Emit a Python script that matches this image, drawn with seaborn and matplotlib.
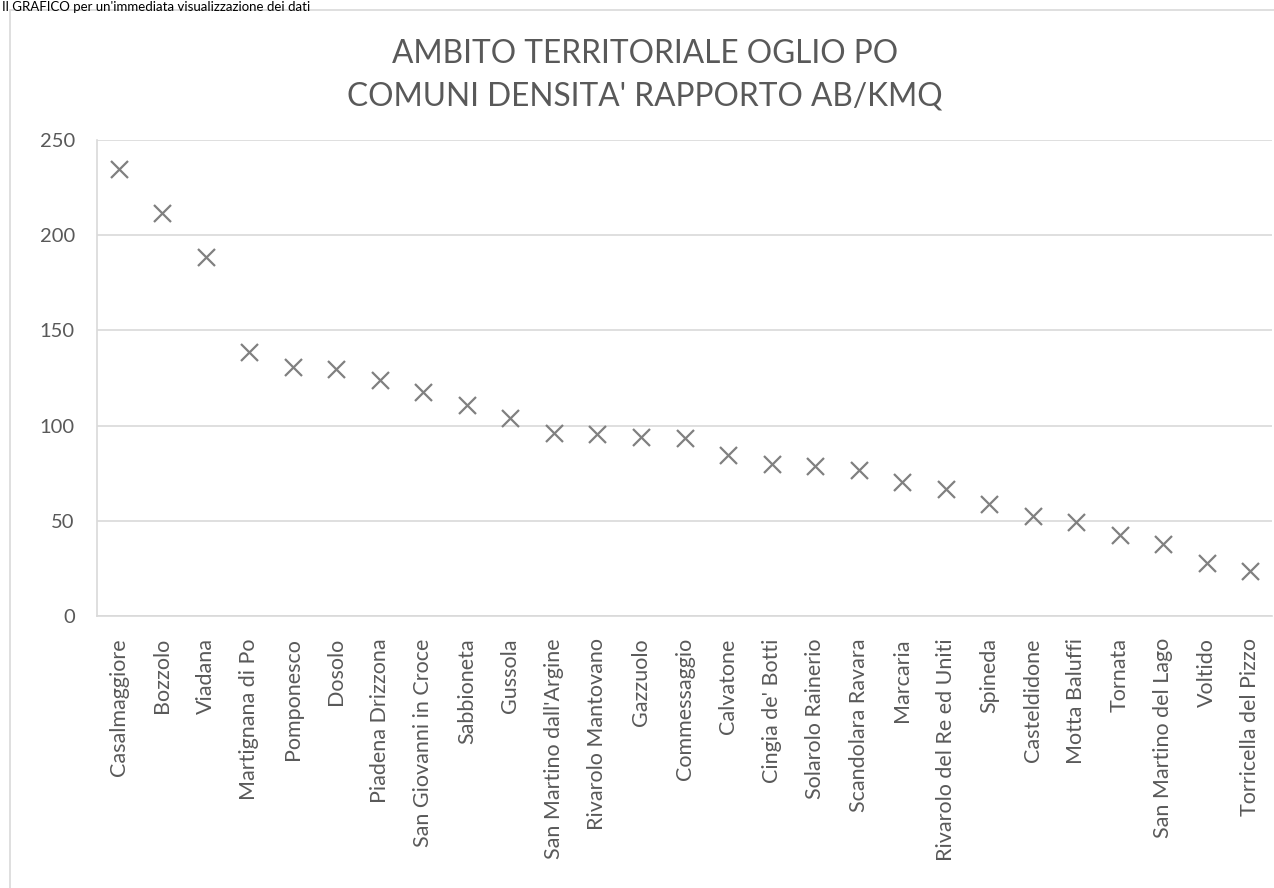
import matplotlib
matplotlib.use("Agg")
import matplotlib.pyplot as plt
import seaborn as sns
import pandas as pd
from matplotlib.patches import Rectangle

# comuni and density (ab/kmq)
comuni = ["Casalmaggiore", "Bozzolo", "Viadana", "Martignana di Po", "Pomponesco",
          "Dosolo", "Piadena Drizzona", "San Giovanni in Croce", "Sabbioneta", "Gussola",
          "San Martino dall'Argine", "Rivarolo Mantovano", "Gazzuolo", "Commessaggio",
          "Calvatone", "Cingia de' Botti", "Solarolo Rainerio", "Scandolara Ravara",
          "Marcaria", "Rivarolo del Re ed Uniti", "Spineda", "Casteldidone",
          "Motta Baluffi", "Tornata", "San Martino del Lago", "Voltido",
          "Torricella del Pizzo"]
densita = [234.8, 211.9, 188.5, 138.8, 130.9, 129.9, 124.0, 117.4, 110.8, 103.9,
           96.0, 95.5, 94.2, 93.6, 84.6, 79.7, 78.8, 76.7, 70.6, 66.7, 58.8, 52.6,
           49.5, 42.5, 37.6, 27.6, 23.7]
yticks = [0, 50, 100, 150, 200, 250]

df = pd.DataFrame({"comune": comuni, "densita": densita})

sns.set_theme(style="white")
plt.rcParams["font.family"] = ["Lato", "DejaVu Sans"]

W, H = 1274, 888
fig = plt.figure(figsize=(W / 100, H / 100), dpi=100)
ax = fig.add_axes([97 / W, 1 - 616 / H, (1272 - 97) / W, (616 - 140) / H])

sns.scatterplot(data=df, x="comune", y="densita", marker="x", color="#808080",
                s=150, linewidth=1.6, ax=ax, zorder=3)

ax.set_xlim(-0.5, len(comuni) - 0.5)
ax.set_ylim(0, 250)
ax.set_yticks(yticks)
ax.set_yticklabels([str(v) for v in yticks])
ax.set_xlabel("")
ax.set_ylabel("")
ax.grid(axis="y", color="#d9d9d9", linewidth=1.2)
ax.set_axisbelow(True)
for s in ["top", "right"]:
    ax.spines[s].set_visible(False)
for s in ["left", "bottom"]:
    ax.spines[s].set_color("#d9d9d9")
    ax.spines[s].set_linewidth(1.2)
ax.tick_params(axis="x", rotation=90, labelsize=15.5, colors="#595959", length=0, pad=16)
ax.tick_params(axis="y", labelsize=14.5, colors="#595959", length=0, pad=16)

fig.text(645 / W, 1 - 63 / H, "AMBITO TERRITORIALE OGLIO PO", ha="center", va="baseline",
         fontsize=22.8, color="#595959")
fig.text(645 / W, 1 - 105 / H, "COMUNI DENSITA' RAPPORTO AB/KMQ", ha="center", va="baseline",
         fontsize=22.8, color="#595959")

# chart frame and the caption just above it
fig.add_artist(Rectangle((10 / W, -0.05), 1.0, 1.05 - 10 / H, transform=fig.transFigure,
                         fill=False, edgecolor="#d9d9d9", linewidth=1.2))
fig.text(2 / W, 1 - 1 / H, "Il GRAFICO per un'immediata visualizzazione dei dati",
         ha="left", va="top", fontsize=9.5, color="black")

fig.savefig("out.png", dpi=100)
